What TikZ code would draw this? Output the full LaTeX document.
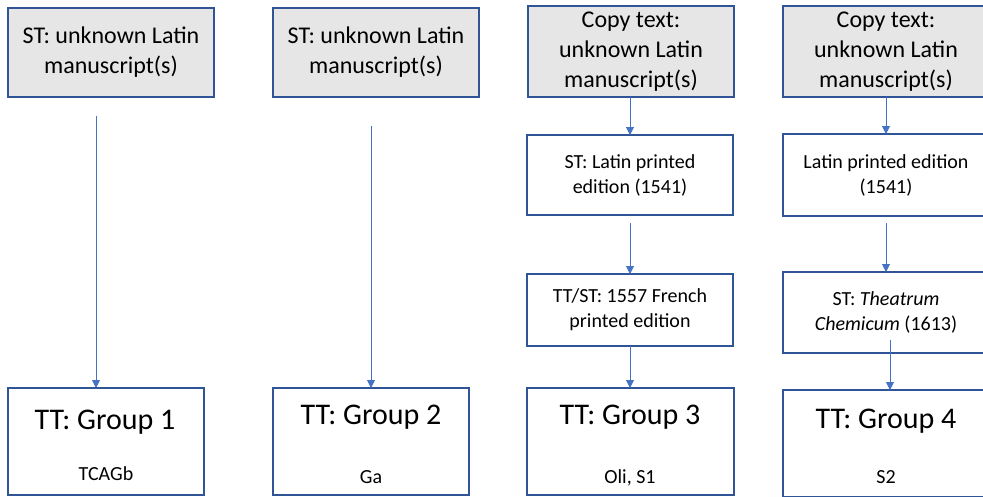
\documentclass[tikz,border=0pt]{standalone}
\usepackage{fontspec}
\setmainfont{Carlito}
\usetikzlibrary{arrows.meta}
\definecolor{boxborder}{HTML}{2F5597}
\definecolor{boxfill}{HTML}{E7E6E6}
\definecolor{arrowblue}{HTML}{4472C4}
\begin{document}
\begin{tikzpicture}[x=1pt,y=-1pt,
  box/.style={draw=boxborder, line width=1.2pt, minimum width=206pt, inner sep=0pt, outer sep=0pt, align=center, text=black},
  src/.style={box, fill=boxfill, font=\fontsize{24}{30}\selectfont},
  mid/.style={box, fill=white, font=\fontsize{20}{25}\selectfont},
  tgt/.style={box, fill=white, minimum height=107pt},
  ttl/.style={anchor=base, font=\fontsize{30}{36}\selectfont},
  sub/.style={anchor=base, font=\fontsize{20}{24}\selectfont},
  arr/.style={draw=arrowblue, line width=0.9pt, -{Triangle[width=8pt,length=8pt]}}
]
\useasboundingbox (0,0) rectangle (983,496);
\clip (0,0) rectangle (983,496);

% top source boxes
\node[src, minimum height=89pt] (t1) at (111,52.5) {ST: unknown Latin\\manuscript(s)};
\node[src, minimum height=89pt] (t2) at (376,52.5) {ST: unknown Latin\\manuscript(s)};
\node[src, minimum height=91pt] (t3) at (631,51.5) {Copy text:\\unknown Latin\\manuscript(s)};
\node[src, minimum height=91pt] (t4) at (886,51.5) {Copy text:\\unknown Latin\\manuscript(s)};

% middle boxes
\node[mid, minimum height=80pt] (m3) at (630,175) {ST: Latin printed\\edition (1541)};
\node[mid, minimum height=82pt] (m4) at (886,175) {Latin printed edition\\(1541)};
\node[mid, minimum height=72pt] (r3) at (630,310) {TT/ST: 1557 French\\printed edition};
\node[mid, minimum height=81pt] (r4) at (886,312.5) {ST: \textit{Theatrum}\\\textit{Chemicum} (1613)};

% bottom target boxes
\node[tgt, minimum width=196pt] (b1) at (106,441.5) {};
\node[tgt, minimum width=196pt] (b2) at (371,441.5) {};
\node[tgt, minimum width=207pt] (b3) at (630.5,441.5) {};
\node[tgt] (b4) at (886,443.5) {};

\node[ttl] (g1) at (105,429) {TT: Group 1};
\node[sub] (s1) at (106,480) {TCAGb};
\node[ttl] (g2) at (371,424) {TT: Group 2};
\node[sub] (s2) at (371,483) {Ga};
\node[ttl] (g3) at (630,424) {TT: Group 3};
\node[sub] (s3) at (630,483) {Oli, S1};
\node[ttl] (g4) at (886,428) {TT: Group 4};
\node[sub] (s4) at (886,483) {S2};

% connectors
\coordinate (a1) at (96,116);
\draw[arr] (a1) -- (a1 |- b1.north);
\coordinate (a2) at (371,126);
\draw[arr] (a2) -- (a2 |- b2.north);

\draw[arr] (t3.south -| m3.north) -- (m3.north);
\coordinate (a3) at (630,223);
\draw[arr] (a3) -- (a3 |- r3.north);
\draw[arr] (r3.south) -- (r3.south |- b3.north);

\draw[arr] (t4.south) -- (m4.north);
\coordinate (a4) at (886,223);
\draw[arr] (a4) -- (a4 |- r4.north);
\coordinate (a5) at (890,340);
\draw[arr] (a5) -- (a5 |- b4.north);
\end{tikzpicture}
\end{document}
